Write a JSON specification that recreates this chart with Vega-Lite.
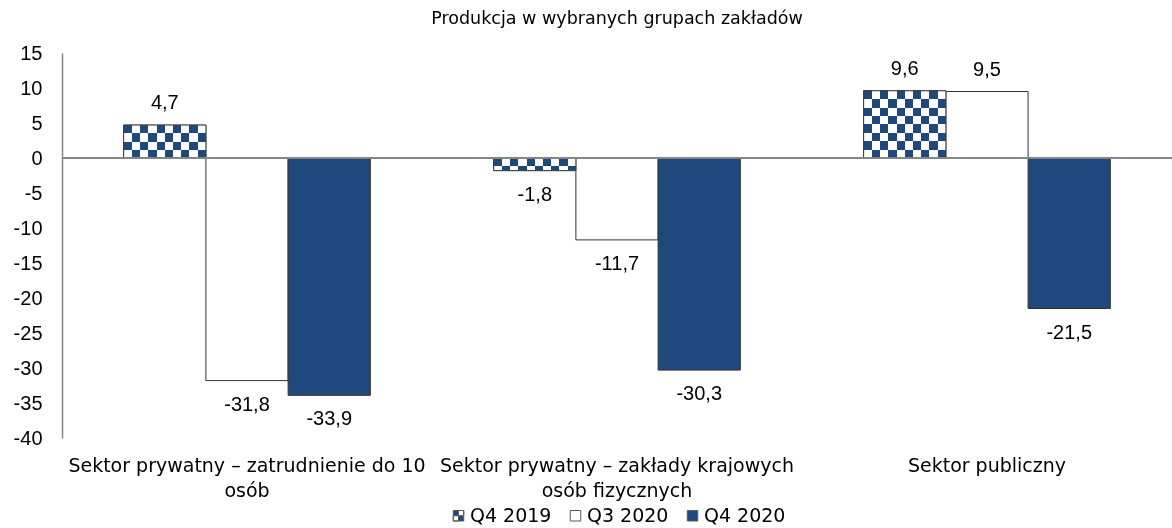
{
  "$schema": "https://vega.github.io/schema/vega-lite/v6.json",
  "width": 1110,
  "height": 385,
  "autosize": {"type": "none"},
  "padding": {"left": 62, "top": 53, "right": 0, "bottom": 90},
  "background": "white",
  "title": {"text": "Produkcja w wybranych grupach zakładów", "anchor": "middle", "font": "DejaVu Sans", "fontSize": 17.5, "fontWeight": "normal", "color": "#000000", "offset": 16},
  "data": {
    "values": [
      {"group": "Sektor prywatny – zatrudnienie do 10 osób", "series": "Q4 2019", "value": 4.7},
      {"group": "Sektor prywatny – zatrudnienie do 10 osób", "series": "Q3 2020", "value": -31.8},
      {"group": "Sektor prywatny – zatrudnienie do 10 osób", "series": "Q4 2020", "value": -33.9},
      {"group": "Sektor prywatny – zakłady krajowych osób fizycznych", "series": "Q4 2019", "value": -1.8},
      {"group": "Sektor prywatny – zakłady krajowych osób fizycznych", "series": "Q3 2020", "value": -11.7},
      {"group": "Sektor prywatny – zakłady krajowych osób fizycznych", "series": "Q4 2020", "value": -30.3},
      {"group": "Sektor publiczny", "series": "Q4 2019", "value": 9.6},
      {"group": "Sektor publiczny", "series": "Q3 2020", "value": 9.5},
      {"group": "Sektor publiczny", "series": "Q4 2020", "value": -21.5}
    ]
  },
  "layer": [
    {
      "encoding": {
        "x": {
          "field": "group", "type": "nominal", "title": null,
          "scale": {"domain": ["Sektor prywatny – zatrudnienie do 10 osób", "Sektor prywatny – zakłady krajowych osób fizycznych", "Sektor publiczny"], "paddingInner": 0.3333, "paddingOuter": 0.1667},
          "axis": {
            "domain": false, "ticks": false, "tickSize": 0, "grid": false,
            "labelFont": "DejaVu Sans", "labelFontSize": 19, "labelColor": "#000000",
            "labelPadding": 18, "labelLineHeight": 25, "labelAngle": 0, "labelLimit": 500,
            "labelExpr": "datum.label === 'Sektor prywatny – zatrudnienie do 10 osób' ? ['Sektor prywatny – zatrudnienie do 10', 'osób'] : datum.label === 'Sektor prywatny – zakłady krajowych osób fizycznych' ? ['Sektor prywatny – zakłady krajowych', 'osób fizycznych'] : datum.label"
          }
        },
        "xOffset": {"field": "series", "type": "nominal", "scale": {"domain": ["Q4 2019", "Q3 2020", "Q4 2020"], "paddingInner": 0, "paddingOuter": 0}},
        "y": {
          "field": "value", "type": "quantitative", "title": null,
          "scale": {"domain": [-40, 15], "nice": false, "zero": false},
          "axis": {
            "values": [-40, -35, -30, -25, -20, -15, -10, -5, 0, 5, 10, 15],
            "labelOverlap": false,
            "domain": true, "domainColor": "#868686", "domainWidth": 1.5,
            "ticks": false, "tickSize": 0, "grid": false,
            "labelFont": "Liberation Sans", "labelFontSize": 20, "labelColor": "#000000", "labelPadding": 20
          }
        }
      },
      "layer": [
        {
          "mark": {"type": "bar", "stroke": "#333333", "strokeWidth": 1},
          "encoding": {
            "fill": {
              "field": "series", "type": "nominal",
              "scale": {"domain": ["Q4 2019", "Q3 2020", "Q4 2020"], "range": ["#1f497d", "#ffffff", "#1f497d"]},
              "legend": {
                "title": null, "orient": "bottom", "direction": "horizontal",
                "symbolType": "square", "symbolSize": 110,
                "symbolStrokeColor": "#595959", "symbolStrokeWidth": 1,
                "labelFont": "DejaVu Sans", "labelFontSize": 19, "labelColor": "#000000",
                "labelOffset": 2, "columnPadding": 14, "offset": 6,
                "encoding": {
                  "symbols": {
                    "shape": {"condition": {"test": "datum.value === 'Q4 2019'", "value": "M-1,-1H1V1H-1ZM0,-1V0H1V-1ZM-1,0V1H0V0Z"}, "value": "square"}
                  }
                }
              }
            }
          }
        },
        {
          "transform": [{"filter": "datum.series === 'Q4 2019'"}],
          "mark": {
            "type": "bar",
            "fill": {"gradient": "linear", "x1": 0, "y1": 0, "x2": 1, "y2": 0, "stops": [
              {"offset": 0, "color": "#000000"}, {"offset": 0.1, "color": "#000000"},
              {"offset": 0.1, "color": "#ffffff"}, {"offset": 0.2, "color": "#ffffff"},
              {"offset": 0.2, "color": "#000000"}, {"offset": 0.3, "color": "#000000"},
              {"offset": 0.3, "color": "#ffffff"}, {"offset": 0.4, "color": "#ffffff"},
              {"offset": 0.4, "color": "#000000"}, {"offset": 0.5, "color": "#000000"},
              {"offset": 0.5, "color": "#ffffff"}, {"offset": 0.6, "color": "#ffffff"},
              {"offset": 0.6, "color": "#000000"}, {"offset": 0.7, "color": "#000000"},
              {"offset": 0.7, "color": "#ffffff"}, {"offset": 0.8, "color": "#ffffff"},
              {"offset": 0.8, "color": "#000000"}, {"offset": 0.9, "color": "#000000"},
              {"offset": 0.9, "color": "#ffffff"}, {"offset": 1, "color": "#ffffff"}
            ]},
            "strokeWidth": 0
          }
        },
        {
          "transform": [{"filter": "datum.series === 'Q4 2019'"}],
          "mark": {"type": "bar", "blend": "difference", "strokeWidth": 0},
          "encoding": {
            "fill": {
              "condition": [
                {"test": "datum.value > 9", "value": {"gradient": "linear", "x1": 0, "y1": 0, "x2": 0, "y2": 1, "stops": [
                  {"offset": 0, "color": "#000000"}, {"offset": 0.125, "color": "#000000"},
                  {"offset": 0.125, "color": "#ffffff"}, {"offset": 0.25, "color": "#ffffff"},
                  {"offset": 0.25, "color": "#000000"}, {"offset": 0.375, "color": "#000000"},
                  {"offset": 0.375, "color": "#ffffff"}, {"offset": 0.5, "color": "#ffffff"},
                  {"offset": 0.5, "color": "#000000"}, {"offset": 0.625, "color": "#000000"},
                  {"offset": 0.625, "color": "#ffffff"}, {"offset": 0.75, "color": "#ffffff"},
                  {"offset": 0.75, "color": "#000000"}, {"offset": 0.875, "color": "#000000"},
                  {"offset": 0.875, "color": "#ffffff"}, {"offset": 1, "color": "#ffffff"}
                ]}},
                {"test": "datum.value < 0", "value": {"gradient": "linear", "x1": 0, "y1": 0, "x2": 0, "y2": 1, "stops": [
                  {"offset": 0, "color": "#000000"}, {"offset": 0.66, "color": "#000000"},
                  {"offset": 0.66, "color": "#ffffff"}, {"offset": 1, "color": "#ffffff"}
                ]}}
              ],
              "value": {"gradient": "linear", "x1": 0, "y1": 0, "x2": 0, "y2": 1, "stops": [
                {"offset": 0, "color": "#000000"}, {"offset": 0.25, "color": "#000000"},
                {"offset": 0.25, "color": "#ffffff"}, {"offset": 0.5, "color": "#ffffff"},
                {"offset": 0.5, "color": "#000000"}, {"offset": 0.75, "color": "#000000"},
                {"offset": 0.75, "color": "#ffffff"}, {"offset": 1, "color": "#ffffff"}
              ]}
            }
          }
        },
        {
          "transform": [{"filter": "datum.series === 'Q4 2019'"}],
          "mark": {"type": "bar", "blend": "lighten", "fill": "#1f497d", "strokeWidth": 0}
        },
        {
          "transform": [{"filter": "datum.series === 'Q4 2019'"}],
          "mark": {"type": "bar", "fill": "#ffffff", "fillOpacity": 0, "stroke": "#404040", "strokeWidth": 1}
        },
        {
          "transform": [{"filter": "datum.value >= 0"}],
          "mark": {"type": "text", "dy": -22, "baseline": "middle", "font": "Liberation Sans", "fontSize": 20, "fill": "#000000"},
          "encoding": {"text": {"field": "value", "type": "quantitative", "format": ".1f"}}
        },
        {
          "transform": [{"filter": "datum.value < 0"}],
          "mark": {"type": "text", "dy": 24, "baseline": "middle", "font": "Liberation Sans", "fontSize": 20, "fill": "#000000"},
          "encoding": {"text": {"field": "value", "type": "quantitative", "format": ".1f"}}
        }
      ]
    },
    {
      "mark": {"type": "rule", "stroke": "#868686", "strokeWidth": 1.5},
      "encoding": {
        "y": {
          "datum": 0, "type": "quantitative", "title": null,
          "axis": {
            "values": [-40, -35, -30, -25, -20, -15, -10, -5, 0, 5, 10, 15],
            "labelOverlap": false,
            "domain": true, "domainColor": "#868686", "domainWidth": 1.5,
            "ticks": false, "tickSize": 0, "grid": false,
            "labelFont": "Liberation Sans", "labelFontSize": 20, "labelColor": "#000000", "labelPadding": 20
          }
        }
      }
    }
  ],
  "config": {
    "view": {"stroke": null},
    "axisY": {"labelOverlap": false},
    "legend": {"layout": {"bottom": {"anchor": "middle"}}},
    "locale": {"number": {"decimal": ",", "thousands": " ", "grouping": [3], "currency": ["", ""], "minus": "-"}}
  }
}
